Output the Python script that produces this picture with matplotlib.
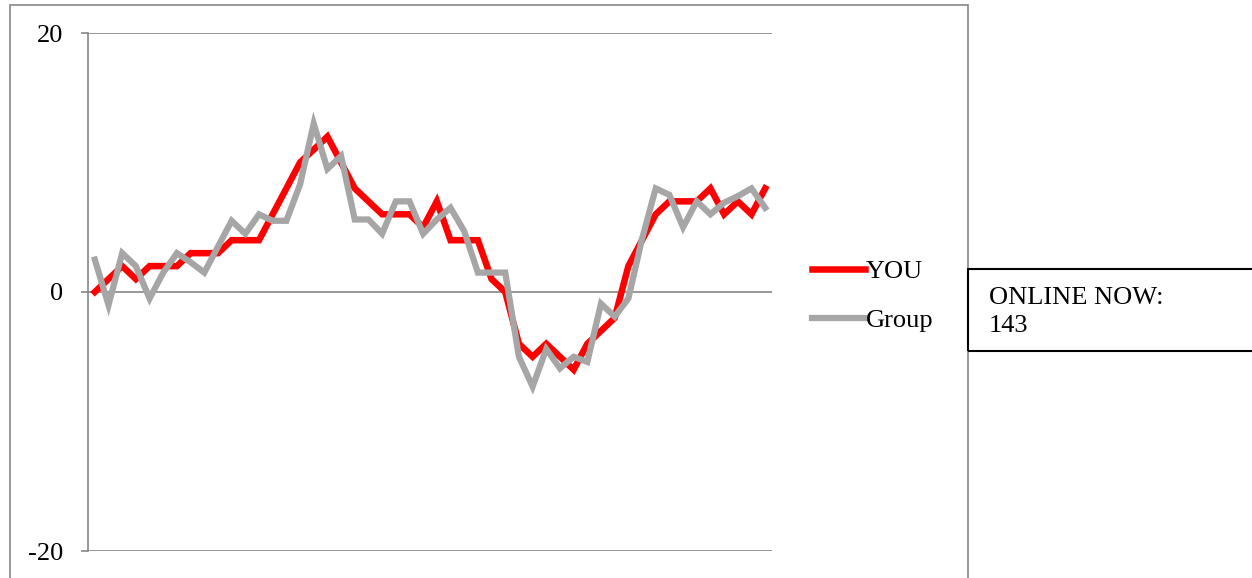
import numpy as np
import matplotlib.pyplot as plt
from matplotlib.patches import Rectangle

# score history, 50 sessions
you = [0, 1, 2, 1, 2, 2, 2, 3, 3, 3,
       4, 4, 4, 6, 8, 10, 11, 12, 10, 8,
       7, 6, 6, 6, 5, 7, 4, 4, 4, 1,
       0, -4, -5, -4, -5, -6, -4, -3, -2, 2,
       4, 6, 7, 7, 7, 8, 6, 7, 6, 8]
group = [2.5, -1, 3, 2, -0.5, 1.5, 3, 2.3, 1.5, 3.5,
         5.5, 4.5, 6, 5.5, 5.5, 8.3, 13, 9.5, 10.5, 5.6,
         5.6, 4.5, 7, 7, 4.5, 5.6, 6.5, 4.7, 1.5, 1.5,
         1.5, -5, -7.3, -4.4, -5.9, -5, -5.4, -0.9, -1.9, -0.5,
         4.1, 8, 7.5, 5, 7, 6, 6.9, 7.4, 8, 6.5]
online_now = 143

plt.rcParams['font.family'] = ['Liberation Serif', 'DejaVu Serif']
plt.rcParams['axes.unicode_minus'] = False

W, H = 1252, 578
fig = plt.figure(figsize=(W / 100, H / 100), dpi=100)

# chart frame
fig.patches.append(Rectangle((10 / W, -0.1), (968 - 10) / W, 1.1 - 5 / H,
                             transform=fig.transFigure, fill=False,
                             edgecolor='#868686', linewidth=1.2))

ax = fig.add_axes([88 / W, (H - 551) / H, 684 / W, 518 / H])
x = np.arange(len(you))
ax.plot(x, you, color='#ff0000', linewidth=4.7, label='YOU',
        solid_joinstyle='miter', zorder=3)
ax.plot(x, group, color='#a6a6a6', linewidth=4.5, label='Group',
        solid_joinstyle='miter', zorder=4)

ax.set_xlim(-0.5, len(you) - 0.5)
ax.set_ylim(-20, 20)
ax.set_yticks([-20, 0, 20])
ax.set_xticks([])
ax.grid(axis='y', color='#868686', linewidth=1.2)
ax.set_axisbelow(True)
for s in ['top', 'right', 'bottom']:
    ax.spines[s].set_visible(False)
ax.spines['left'].set_color('#868686')
ax.spines['left'].set_linewidth(1.2)
ax.tick_params(axis='y', length=5, width=1.2, color='#868686',
               pad=13, labelsize=19)

fig.legend(loc='upper left', bbox_to_anchor=(812 / W, 1 - 260 / H),
           frameon=False, fontsize=19, handlelength=2.0,
           handletextpad=0.05, labelspacing=0.95, borderpad=0,
           borderaxespad=0)

# online counter box
fig.patches.append(Rectangle((968 / W, 1 - 351 / H), 0.3, (351 - 269) / H,
                             transform=fig.transFigure, fill=False,
                             edgecolor='black', linewidth=1.5))
fig.text(989 / W, 1 - 312 / H, f'ONLINE NOW:\n{online_now}',
         fontsize=19, va='center', ha='left', linespacing=1.3)

fig.savefig('out.png', dpi=100)
